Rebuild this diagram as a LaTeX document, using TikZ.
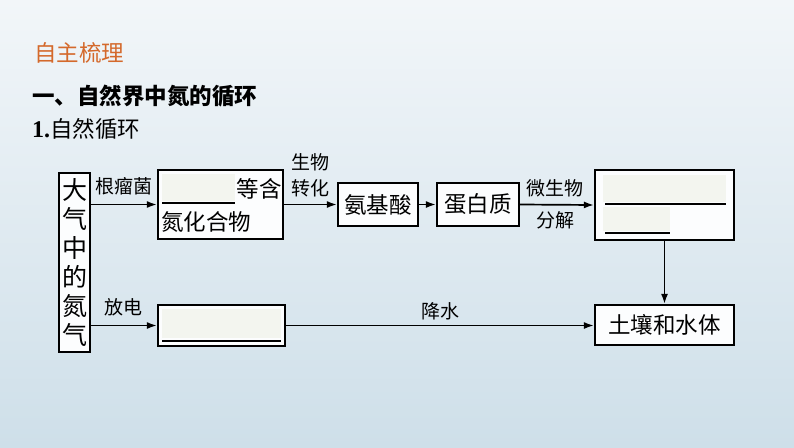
\documentclass[tikz,border=0pt]{standalone}
\usepackage{fontspec}
\setmainfont{Noto Sans CJK SC}
\newfontfamily\numfont{Liberation Serif}
\usetikzlibrary{positioning,calc,arrows.meta}
\definecolor{headorange}{HTML}{D4692C}
\definecolor{bgtop}{HTML}{F2F6F9}
\definecolor{bgbottom}{HTML}{CEDFE9}
\definecolor{blankfill}{HTML}{F3F5EF}
\tikzset{
  flowbox/.style={draw=black, line width=2.2pt, fill=white!75!bgtop, inner sep=0pt},
  boxtext/.style={font=\fontsize{22.5}{24}\selectfont},
  arrowlabel/.style={font=\fontsize{19}{26}\selectfont, inner sep=1pt, align=center},
  flowarrow/.style={-{Latex[length=10pt,width=7pt]}, line width=1.7pt},
  blankline/.style={line width=1.9pt},
  headline/.style={anchor=west, inner sep=0pt, font=\fontsize{22.5}{24}\selectfont},
}

\begin{document}
\begin{tikzpicture}[x=1pt,y=-1pt]
\useasboundingbox (0,0) rectangle (794,447);
\shade[top color=bgtop, bottom color=bgbottom] (0,0) rectangle (794,447);

% headings
\node[headline, text=headorange] (head) at (34,53) {自主梳理};
\node[headline, font=\fontsize{22.5}{24}\selectfont\bfseries] (sect) at (32,96) {一、自然界中氮的循环};
\node[headline] (sub) at (32,129) {{\numfont\bfseries\fontsize{24}{26}\selectfont 1.}自然循环};

% boxes
\node[flowbox, minimum width=31, minimum height=179, align=center, font=\fontsize{25}{29}\selectfont] (air) at (74.5,262.5) {大\\气\\中\\的\\氮\\气};
\node[flowbox, minimum width=125, minimum height=69] (nitro) at (220.5,204.5) {};
\node[flowbox, boxtext, minimum width=80, minimum height=43] (amino) at (378,204.5) {氨基酸};
\node[flowbox, boxtext, minimum width=82, minimum height=43] (protein) at (478,204.5) {蛋白质};
\node[flowbox, minimum width=139, minimum height=70] (ammon) at (664.5,205) {};
\node[flowbox, boxtext, minimum width=139, minimum height=40] (soil) at (664.5,325) {土壤和水体};
\node[flowbox, minimum width=127, minimum height=41] (nox) at (221.5,325.5) {};

% blanks inside the boxes
\fill[blankfill] (162,174) rectangle (235,201);
\draw[blankline] (162,203) -- (235,203);
\node[boxtext, inner sep=0pt] (deng) at (259,189) {等含};
\node[boxtext, anchor=west, inner sep=0pt] (nitrotext) at (161,222) {氮化合物};
\fill[blankfill] (603,175) rectangle (726,202);
\draw[blankline] (605,204) -- (726,204);
\fill[blankfill] (603,207) rectangle (670,231);
\draw[blankline] (605,233) -- (670,233);
\fill[blankfill] (162,309) rectangle (281,338);
\draw[blankline] (162,341) -- (281,341);

% labels
\node[arrowlabel] (nodule) at (124,186) {根瘤菌};
\node[arrowlabel] (bioconv) at (310,175) {生物\\转化};
\node[arrowlabel] (microbe) at (555,188) {微生物};
\node[arrowlabel] (decomp) at (555,220) {分解};
\node[arrowlabel] (spark) at (123,307) {放电};
\node[arrowlabel] (rain) at (440,311) {降水};

% arrows
\draw[flowarrow] (air.east |- nitro.west) -- (nitro.west);
\draw[flowarrow] (nitro.east |- amino.west) -- (amino.west);
\draw[flowarrow] (amino.east) -- (protein.west);
\draw[flowarrow] (protein.east) -- (ammon.west);
\draw[flowarrow] (ammon.south) -- (soil.north);
\draw[flowarrow] (air.east |- nox.west) -- (nox.west);
\draw[flowarrow] (nox.east) -- (nox.east -| soil.west);
\end{tikzpicture}
\end{document}
